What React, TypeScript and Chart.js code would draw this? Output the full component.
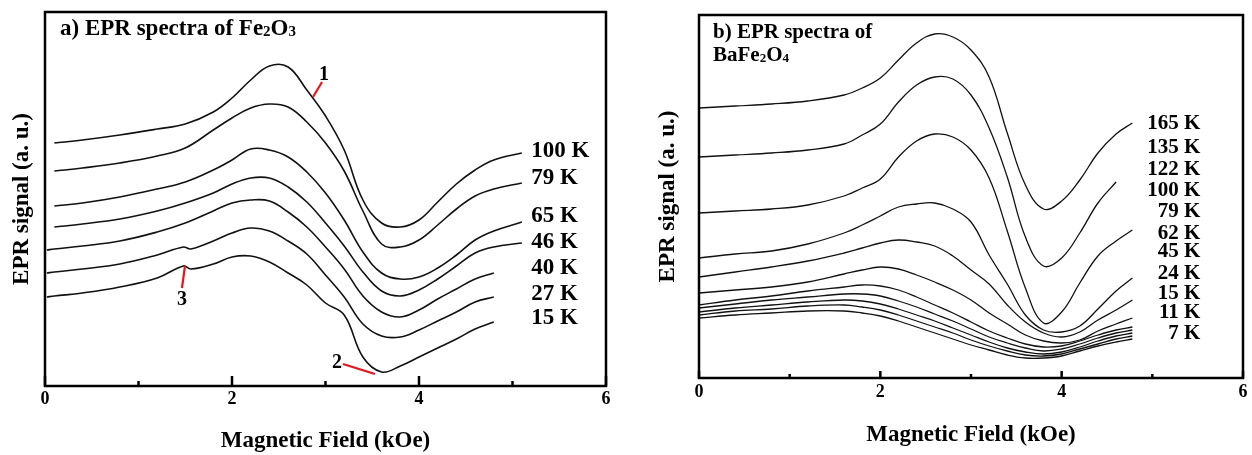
import React, { useEffect, useRef } from "react";
import { Chart, registerables } from "chart.js";

Chart.register(...registerables);

const SERIF = "'Liberation Serif', 'Times New Roman', serif";

// ---------- Panel a: Fe2O3 ----------
const fieldA = [0.02, 0.1, 0.4, 0.8, 1.2, 1.5, 1.8, 2.0, 2.2, 2.4, 2.6, 2.8, 3.0, 3.2, 3.4, 3.6, 3.8, 4.0, 4.2, 4.4, 4.6, 4.8, 5.1];
const fieldASpike = [0.02, 0.1, 0.4, 0.8, 1.2, 1.48, 1.56, 1.8, 2.0, 2.2, 2.4, 2.6, 2.8, 3.0, 3.2, 3.4, 3.6, 3.8, 4.0, 4.2, 4.4, 4.6, 4.8, 5.1];
const fe100K = [null, 243, 246, 251, 257, 262, 274, 288, 306, 320, 319, 296, 270, 236, 186, 163, 159, 166, 184, 202, 216, 226, 233];
const fe79K = [null, 215, 218, 223, 230, 238, 256, 268, 278, 282, 279, 264, 243, 215, 175, 142, 139, 146, 161, 177, 190, 197, 203];
const fe65K = [null, 180, 183, 189, 197, 204, 216, 226, 237, 236, 229, 214, 193, 166, 134, 113, 107, 109, 118, 131, 146, 155, 164];
const fe46K = [null, 159, 162, 167, 175, 183, 193, 202, 208, 208, 199, 184, 163, 140, 114, 95, 90, 96, 107, 120, 133, 139, 143];
const fe40K = [136, 137, 140, 145, 154, 163, 175, 183, 186, 185, 174, 159, 139, 117, 90, 74, 69, 76, 87, 97, 107, 113, null];
const fe27K = [113, 114, 117, 122, 131, 139, 137, 145, 153, 158, 155, 145, 132, 111, 89, 62, 50, 49, 56, 65, 74, 84, 89, null];
const fe15K = [89, 90, 93, 99, 108, 120, 117, 122, 129, 130, 124, 113, 101, 83, 71, 29, 14, 20, 29, 38, 47, 57, 64, null];
const fieldsA = [fieldA, fieldA, fieldA, fieldA, fieldA, fieldASpike, fieldASpike];
const seriesA = [fe100K, fe79K, fe65K, fe46K, fe40K, fe27K, fe15K];
const tempLabelsA = ["100 K", "79 K", "65 K", "46 K", "40 K", "27 K", "15 K"];
const tempLabelYA = [235, 208, 170, 144, 118, 92, 68];
const tempLabelXA = 5.2;
const markersA = [
  { text: "1", tx: 2.984, ty: 311, x1: 2.866, y1: 289, x2: 2.963, y2: 304 },
  { text: "2", tx: 3.123, ty: 23, x1: 3.187, y1: 22, x2: 3.529, y2: 12 },
  { text: "3", tx: 1.465, ty: 86, x1: 1.465, y1: 98, x2: 1.497, y2: 120 },
];

// ---------- Panel b: BaFe2O4 ----------
const fieldB = [0, 0.4, 0.8, 1.2, 1.6, 1.8, 2.0, 2.2, 2.4, 2.6, 2.8, 3.0, 3.2, 3.4, 3.6, 3.8, 4.0, 4.2, 4.4, 4.6, 4.78];
const ba165K = [270, 272, 274, 277, 283, 290, 300, 318, 335, 344, 341, 328, 301, 245, 193, 169, 177, 198, 225, 244, 255];
const ba135K = [221, 223, 225, 228, 234, 243, 254, 276, 293, 301, 299, 283, 250, 201, 141, 112, 120, 145, 175, 196, null];
const ba122K = [165, 167, 169, 173, 182, 190, 199, 221, 237, 244, 241, 228, 200, 147, 90, 55, 66, 95, 122, 137, 148];
const ba100K = [120, 124, 127, 134, 145, 153, 162, 171, 174, 175, 169, 156, 123, 94, 63, 48, 46, 52, 69, 87, 100];
const ba79K = [101, 106, 111, 117, 125, 130, 135, 138, 136, 132, 122, 108, 94, 73, 56, 45, 41, 46, 58, 68, 78];
const ba62K = [85, 88, 91, 96, 104, 108, 111, 109, 103, 96, 88, 78, 65, 54, 43, 37, 35, 38, 47, 54, 60];
const ba45K = [73, 78, 82, 87, 91, 93, 92, 88, 81, 73, 65, 56, 47, 40, 34, 31, 32, 37, 43, 48, 51];
const ba24K = [70, 74, 78, 81, 84, 84, 82, 77, 71, 64, 57, 49, 41, 35, 30, 27, 29, 34, 40, 45, 48];
const ba15K = [66, 70, 73, 76, 78, 77, 74, 69, 63, 57, 50, 43, 36, 30, 26, 24, 26, 31, 37, 42, 45];
const ba11K = [63, 67, 69, 72, 73, 71, 68, 63, 57, 51, 45, 38, 32, 27, 23, 22, 24, 29, 34, 39, 42];
const ba7K = [60, 63, 65, 67, 67, 65, 62, 57, 51, 45, 39, 33, 28, 23, 20, 20, 22, 27, 32, 36, 39];
const seriesB = [ba165K, ba135K, ba122K, ba100K, ba79K, ba62K, ba45K, ba24K, ba15K, ba11K, ba7K];
const fieldsB = seriesB.map(() => fieldB);
const tempLabelsB = ["165 K", "135 K", "122 K", "100 K", "79 K", "62 K", "45 K", "24 K", "15 K", "11 K", "7 K"];
const tempLabelYB = [254, 230, 208, 187, 166, 144, 126, 104, 84, 65, 44];
const tempLabelXB = 5.53;

const xTickValues = [0, 1, 2, 3, 4, 5, 6];

type Seg = { t: string; sub?: boolean };

type PanelSpec = {
  fields: number[][];
  series: (number | null)[][];
  yMax: number;
  padding: { left: number; right: number; top: number; bottom: number };
  yWidth: number;
  xHeight: number;
  tickPad: number;
  xTitlePad: number;
  lineWidth: number;
  frameWidth: number;
  majorLen: number;
  minorLen: number;
  labels: string[];
  labelY: number[];
  labelX: number;
  labelAlign: CanvasTextAlign;
  labelSize: number;
  titleLines: Seg[][];
  titleSize: number;
  titleDx: number;
  titleBaselines: number[];
  markers: { text: string; tx: number; ty: number; x1: number; y1: number; x2: number; y2: number }[];
};

function drawRich(ctx: CanvasRenderingContext2D, segs: Seg[], x: number, y: number, size: number) {
  let cx = x;
  ctx.textAlign = "left";
  ctx.textBaseline = "alphabetic";
  for (const s of segs) {
    const fs = s.sub ? Math.round(size * 0.64) : size;
    ctx.font = `bold ${fs}px ${SERIF}`;
    ctx.fillText(s.t, cx, y + (s.sub ? size * 0.06 : 0));
    cx += ctx.measureText(s.t).width;
  }
}

function decorPlugin(p: PanelSpec) {
  return {
    id: "decor",
    afterDraw(chart: any) {
      const ctx: CanvasRenderingContext2D = chart.ctx;
      const { left, right, top, bottom } = chart.chartArea;
      const xs = chart.scales.x;
      const ys = chart.scales.y;
      ctx.save();
      ctx.strokeStyle = "#000";
      ctx.fillStyle = "#000";
      ctx.lineWidth = p.frameWidth;
      ctx.strokeRect(left, top, right - left, bottom - top);
      for (const v of xTickValues) {
        const px = xs.getPixelForValue(v);
        const len = v % 2 === 0 ? p.majorLen : p.minorLen;
        ctx.beginPath();
        ctx.moveTo(px, bottom);
        ctx.lineTo(px, bottom - len);
        ctx.stroke();
      }
      ctx.font = `bold ${p.labelSize}px ${SERIF}`;
      ctx.textAlign = p.labelAlign;
      ctx.textBaseline = "middle";
      p.labels.forEach((t, i) => {
        ctx.fillText(t, xs.getPixelForValue(p.labelX), ys.getPixelForValue(p.labelY[i]));
      });
      for (const m of p.markers) {
        ctx.strokeStyle = "#e8141c";
        ctx.lineWidth = 2.2;
        ctx.beginPath();
        ctx.moveTo(xs.getPixelForValue(m.x1), ys.getPixelForValue(m.y1));
        ctx.lineTo(xs.getPixelForValue(m.x2), ys.getPixelForValue(m.y2));
        ctx.stroke();
        ctx.font = `bold 20px ${SERIF}`;
        ctx.textAlign = "center";
        ctx.textBaseline = "middle";
        ctx.fillStyle = "#000";
        ctx.fillText(m.text, xs.getPixelForValue(m.tx), ys.getPixelForValue(m.ty));
      }
      ctx.fillStyle = "#000";
      p.titleLines.forEach((segs, i) => {
        drawRich(ctx, segs, left + p.titleDx, top + p.titleBaselines[i], p.titleSize);
      });
      ctx.restore();
    },
  };
}

function makeConfig(p: PanelSpec): any {
  const titleFont = { family: SERIF, size: 23, weight: "bold" };
  return {
    type: "line",
    data: {
      datasets: p.series.map((vals, k) => ({
        data: p.fields[k].map((x, i) => ({ x, y: vals[i] })),
        borderColor: "#111",
        borderWidth: p.lineWidth,
        pointRadius: 0,
        tension: 0.4,
        fill: false,
        spanGaps: false,
      })),
    },
    options: {
      animation: false,
      responsive: false,
      layout: { padding: p.padding },
      plugins: { legend: { display: false }, tooltip: { enabled: false }, title: { display: false } },
      scales: {
        x: {
          type: "linear",
          min: 0,
          max: 6,
          ticks: { stepSize: 2, color: "#000", padding: p.tickPad, maxRotation: 0, font: { family: SERIF, size: 18, weight: "bold" } },
          grid: { display: false, drawTicks: false },
          border: { display: false },
          title: { display: true, text: "Magnetic Field (kOe)", color: "#000", font: titleFont, padding: { top: 0, bottom: p.xTitlePad } },
          afterFit: (s: any) => {
            s.height = p.xHeight;
          },
        },
        y: {
          type: "linear",
          min: 0,
          max: p.yMax,
          ticks: { display: false },
          grid: { display: false, drawTicks: false },
          border: { display: false },
          title: { display: true, text: "EPR signal (a. u.)", color: "#000", font: titleFont, padding: { top: 2, bottom: 0 } },
          afterFit: (s: any) => {
            s.width = p.yWidth;
          },
        },
      },
    },
    plugins: [decorPlugin(p)],
  };
}

const panelA: PanelSpec = {
  fields: fieldsA,
  series: seriesA,
  yMax: 374,
  padding: { left: 6, right: 20, top: 12, bottom: 0 },
  yWidth: 39,
  xHeight: 69,
  tickPad: 3,
  xTitlePad: 0,
  lineWidth: 1.6,
  frameWidth: 2.5,
  majorLen: 10,
  minorLen: 5,
  labels: tempLabelsA,
  labelY: tempLabelYA,
  labelX: tempLabelXA,
  labelAlign: "left",
  labelSize: 23,
  titleLines: [[{ t: "a) EPR spectra of Fe" }, { t: "2", sub: true }, { t: "O" }, { t: "3", sub: true }]],
  titleSize: 23,
  titleDx: 15,
  titleBaselines: [23],
  markers: markersA,
};

const panelB: PanelSpec = {
  fields: fieldsB,
  series: seriesB,
  yMax: 363,
  padding: { left: 26, right: 9, top: 15, bottom: 0 },
  yWidth: 47,
  xHeight: 77,
  tickPad: 4,
  xTitlePad: 6,
  lineWidth: 1.3,
  frameWidth: 2.5,
  majorLen: 7,
  minorLen: 4,
  labels: tempLabelsB,
  labelY: tempLabelYB,
  labelX: tempLabelXB,
  labelAlign: "right",
  labelSize: 21,
  titleLines: [[{ t: "b) EPR spectra of" }], [{ t: "BaFe" }, { t: "2", sub: true }, { t: "O" }, { t: "4", sub: true }]],
  titleSize: 21,
  titleDx: 14,
  titleBaselines: [23, 46],
  markers: [],
};

function Panel({ spec, left }: { spec: PanelSpec; left: number }) {
  const ref = useRef<HTMLCanvasElement>(null);
  useEffect(() => {
    const chart = new Chart(ref.current as HTMLCanvasElement, makeConfig(spec));
    return () => chart.destroy();
  }, [spec]);
  return (
    <div style={{ position: "absolute", left, top: 0, width: 626, height: 455 }}>
      <canvas ref={ref} width={626} height={455} style={{ width: 626, height: 455, display: "block" }} />
    </div>
  );
}

export default function App() {
  return (
    <div style={{ position: "absolute", left: 0, top: 0, width: 1252, height: 455, background: "#fff" }}>
      <Panel spec={panelA} left={0} />
      <Panel spec={panelB} left={626} />
    </div>
  );
}
